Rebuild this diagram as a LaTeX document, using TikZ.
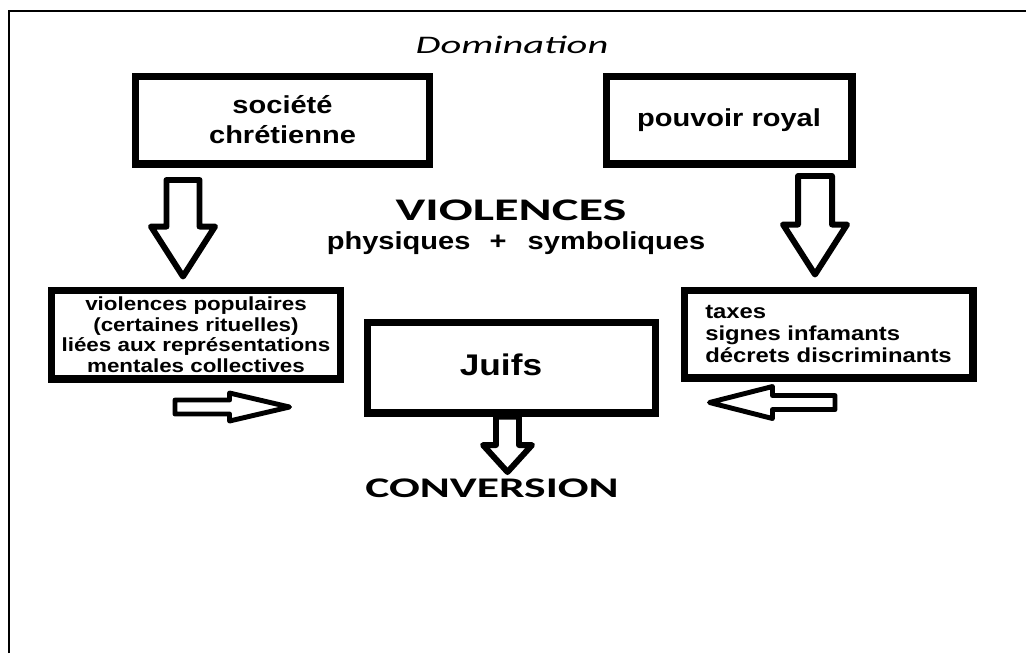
\documentclass[tikz,border=0pt]{standalone}
\usepackage{fontspec}
\setmainfont{Liberation Sans}
\newfontfamily\boxfont[FakeStretch=1.18]{Liberation Sans}
\newfontfamily\calfont[FakeStretch=1.6]{Carlito}
\usetikzlibrary{calc}

% hollow block arrow: [style] from, tip, shaft half width, head half width, head length
\newcommand{\fatarrow}[6][]{%
    \coordinate (fa-h) at ($(#3)!#6!(#2)$);
    \draw[fat, #1] ($(#2)!#4!90:(#3)$) -- ($(fa-h)!#4!90:(#3)$) -- ($(fa-h)!#5!90:(#3)$) -- (#3)
        -- ($(fa-h)!#5!-90:(#3)$) -- ($(fa-h)!#4!-90:(#3)$) -- ($(#2)!#4!-90:(#3)$) -- cycle;
}

\begin{document}
\begin{tikzpicture}[
    x=0.02cm, y=-0.02cm,
    box/.style={draw, line width=4pt, align=center, inner sep=2pt,
        font=\boxfont\bfseries\fontsize{14}{17}\selectfont},
    fat/.style={draw, line width=3.4pt, fill=white, line join=round},
    head/.style={font=\calfont\bfseries\fontsize{17.9}{20}\selectfont}
]
\useasboundingbox (0,0) rectangle (1026,653);

% Frame
\draw[line width=1.5pt] (9,653) -- (9,11) -- (1026,11);
\node[font=\calfont\itshape\fontsize{14.4}{17}\selectfont] (dom) at (512,45) {Domination};

% Sources of domination
\node[box, minimum width=5.9cm, minimum height=1.76cm] (soc) at (282.5,120) {société\\chrétienne};
\node[box, minimum width=4.92cm, minimum height=1.76cm] (roy) at (729,120) {pouvoir royal};

% Violences
\node[head] (viol) at (511,210) {VIOLENCES};
\node[font=\boxfont\bfseries\fontsize{14}{17}\selectfont] (phys) at (516,243)
    {physiques\hspace{11pt}+\hspace{12pt}symboliques};

% Forms of violence
\node[box, minimum width=5.8cm, minimum height=1.78cm,
    font=\boxfont\bfseries\fontsize{10.8}{11.7}\selectfont] (pop) at (196,334.5)
    {violences populaires\\(certaines rituelles)\\liées aux représentations\\mentales collectives};
\node[box, minimum width=5.78cm, minimum height=1.76cm, align=left,
    font=\boxfont\bfseries\fontsize{11.5}{12.5}\selectfont] (tax) at (828.5,334)
    {taxes\\signes infamants\\décrets discriminants};

% Target and outcome
\node[box, minimum width=5.78cm, minimum height=1.82cm,
    font=\boxfont\bfseries\fontsize{17}{20}\selectfont] (juifs) at (511.5,367.5)
    {\raisebox{3pt}{Juifs}\hspace{12pt}};
\node[head, font=\calfont\bfseries\fontsize{16.2}{19}\selectfont] (conv) at (492,488) {CONVERSION};

% Arrow end points
\coordinate (socout) at ($(soc.south)+(-99.5,12.5)$);
\coordinate (popin) at ($(pop.north)+(-13,-10)$);
\coordinate (royout) at ($(roy.south)+(86,8.5)$);
\coordinate (taxin) at ($(tax.north)+(-13.5,-12)$);
\coordinate (popout) at ($(pop.south)+(-21,24.5)$);
\coordinate (juifsl) at ($(juifs.west)+(-74,39.5)$);
\coordinate (taxout) at ($(tax.south)+(6.5,21)$);
\coordinate (juifsr) at ($(juifs.east)+(50,35)$);
\coordinate (juifsout) at ($(juifs.south)+(-4,0)$);
\coordinate (convin) at ($(juifs.south)+(-4,55.5)$);

% Block arrows
\fatarrow{socout}{popin}{0.33cm}{0.64cm}{1.0cm}
\fatarrow{royout}{taxin}{0.34cm}{0.64cm}{1.0cm}
\fatarrow[line width=2.8pt]{popout}{juifsl}{0.14cm}{0.28cm}{1.2cm}
\fatarrow[line width=2.8pt]{taxout}{juifsr}{0.14cm}{0.32cm}{1.26cm}
\fatarrow{juifsout}{convin}{0.23cm}{0.49cm}{0.54cm}

\end{tikzpicture}
\end{document}
